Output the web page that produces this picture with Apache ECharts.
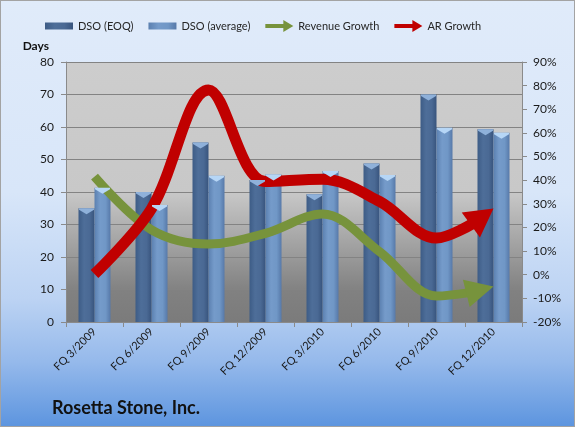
<!DOCTYPE html>
<html>
<head>
<meta charset="utf-8">
<script src="https://cdn.jsdelivr.net/npm/echarts@6/dist/echarts.min.js"></script>
<style>
  html, body { margin: 0; padding: 0; }
  #chart { width: 573px; height: 425px; border: 1px solid #a3a3a3; }
</style>
</head>
<body>
<div id="chart"></div>
<script>
// quarters on the x axis
var categories = ['FQ 3/2009', 'FQ 6/2009', 'FQ 9/2009', 'FQ 12/2009',
                  'FQ 3/2010', 'FQ 6/2010', 'FQ 9/2010', 'FQ 12/2010'];
// days sales outstanding (left axis)
var dsoEoq = [35, 40, 55.2, 43.7, 39.3, 48.8, 70, 59.3];
var dsoAvg = [41.3, 36, 45, 45.4, 46.5, 45.2, 59.8, 58.2];
// growth in % (right axis)
var revenueGrowth = [41.5, 19, 13, 17.5, 25.7, 9.8, -9, -5];
var arGrowth = [0.3, 28, 78.2, 39.4, 40.4, 31, 15.5, 28];

var FONT = 'Lato, "DejaVu Sans", sans-serif';
var arrowHead = 'path://M0,0L28,15L0,30Z';
var barIcon = 'path://M0,0M28,12M0,2.5h28v7h-28z';
var arrowIcon = 'path://M0,4h18v-4l10,6l-10,6v-4h-18z';
var barCap = 'path://M0,0H16V1.5L8,6L0,1.5Z';

function hGrad(stops) {
  return new echarts.graphic.LinearGradient(0, 0, 1, 0, stops);
}

// light bevel drawn on top of every bar
function caps(values, color) {
  return {
    symbol: barCap,
    symbolSize: [15, 6],
    symbolOffset: [0, 3],
    silent: true,
    label: { show: false },
    itemStyle: { color: color },
    data: values.map(function (v, i) { return { coord: [i, v] }; })
  };
}

// line points sit on the centre of each category (hidden value x axis 0..8)
function linePoints(values) {
  return values.map(function (v, i) { return [i + 0.5, v]; });
}

var chart = echarts.init(document.getElementById('chart'));

var option = {
  animation: false,
  backgroundColor: new echarts.graphic.LinearGradient(0, 0, 0, 1, [
    { offset: 0, color: '#e0ebfa' },
    { offset: 0.45, color: '#d8e6f9' },
    { offset: 0.7, color: '#bcd3f3' },
    { offset: 0.85, color: '#95b9eb' },
    { offset: 1, color: '#5d95df' }
  ]),
  textStyle: { fontFamily: FONT },
  title: {
    text: 'Rosetta Stone, Inc.',
    left: 51,
    top: 398,
    padding: 0,
    textStyle: { fontFamily: FONT, fontSize: 18, fontWeight: 'bold', color: '#111' }
  },
  legend: {
    left: 44,
    top: 19,
    padding: 0,
    itemWidth: 28,
    itemHeight: 12,
    itemGap: 15,
    itemStyle: { borderWidth: 0 },
    textStyle: { fontFamily: FONT, fontSize: 11, color: '#262626' },
    data: [
      { name: 'DSO (EOQ)', icon: barIcon },
      { name: 'DSO (average)', icon: barIcon },
      { name: 'Revenue Growth', icon: arrowIcon },
      { name: 'AR Growth', icon: arrowIcon }
    ]
  },
  grid: {
    left: 65, right: 52, top: 61, bottom: 104,
    show: true,
    borderWidth: 0,
    backgroundColor: new echarts.graphic.LinearGradient(0, 0, 0, 1, [
      { offset: 0, color: '#cdcdcd' },
      { offset: 0.5, color: '#c8c8c8' },
      { offset: 0.88, color: '#818181' },
      { offset: 1, color: '#7b7b7b' }
    ])
  },
  xAxis: [
    {
      type: 'category',
      data: categories,
      boundaryGap: true,
      axisLine: { lineStyle: { color: '#8a8a8a' } },
      axisTick: { show: true, length: 5, lineStyle: { color: '#8a8a8a' } },
      axisLabel: { rotate: 45, margin: 8, fontSize: 11, color: '#1a1a1a', interval: 0 }
    },
    { type: 'value', min: 0, max: 8, show: false }
  ],
  yAxis: [
    {
      type: 'value', min: 0, max: 80, interval: 10, position: 'left',
      name: 'Days', nameLocation: 'end', nameGap: 10,
      nameTextStyle: { fontFamily: FONT, fontWeight: 'bold', fontSize: 12, color: '#111', align: 'right', padding: [0, 17, 0, 0] },
      axisLine: { show: true, lineStyle: { color: '#8a8a8a' } },
      axisTick: { show: true, length: 5, lineStyle: { color: '#8a8a8a' } },
      axisLabel: { margin: 12, fontSize: 12, color: '#1a1a1a' },
      splitLine: { lineStyle: { color: '#838383' } }
    },
    {
      type: 'value', min: -20, max: 90, interval: 10, position: 'right',
      axisLine: { show: true, lineStyle: { color: '#8a8a8a' } },
      axisTick: { show: true, length: 5, lineStyle: { color: '#8a8a8a' } },
      axisLabel: { margin: 11, fontSize: 12, color: '#1a1a1a', formatter: '{value}%' },
      splitLine: { show: false }
    }
  ],
  series: [
    {
      name: 'DSO (EOQ)', type: 'bar', data: dsoEoq,
      barWidth: 16, barGap: '0%',
      itemStyle: {
        color: hGrad([
          { offset: 0, color: '#3d5c86' },
          { offset: 0.35, color: '#4e6e99' },
          { offset: 0.7, color: '#4a6994' },
          { offset: 1, color: '#38547d' }
        ])
      },
      markPoint: caps(dsoEoq, '#8fb1da')
    },
    {
      name: 'DSO (average)', type: 'bar', data: dsoAvg,
      barWidth: 16,
      itemStyle: {
        color: hGrad([
          { offset: 0, color: '#5b80b0' },
          { offset: 0.35, color: '#759bca' },
          { offset: 0.7, color: '#7097c6' },
          { offset: 1, color: '#5779a9' }
        ])
      },
      markPoint: caps(dsoAvg, '#b6d6f6')
    },
    {
      name: 'Revenue Growth', type: 'line', xAxisIndex: 1, yAxisIndex: 1,
      data: linePoints(revenueGrowth), smooth: 0.35, symbol: 'none', z: 3,
      color: '#77933c',
      lineStyle: { width: 9, color: '#77933c', cap: 'butt' }
    },
    {
      name: 'AR Growth', type: 'line', xAxisIndex: 1, yAxisIndex: 1,
      data: linePoints(arGrowth), smooth: 0.35, symbol: 'none', z: 4,
      color: '#c00000',
      lineStyle: { width: 11, color: '#c00000', cap: 'butt' }
    }
  ]
};

chart.setOption(option);

// finish each growth line with an arrow head whose tip is the last value
function withArrow(values, angle, len, width) {
  var pts = linePoints(values);
  var rad = angle * Math.PI / 180;
  var tip = chart.convertToPixel({ xAxisIndex: 1, yAxisIndex: 1 }, pts[pts.length - 1]);
  var back = len - 3;
  var base = chart.convertFromPixel({ xAxisIndex: 1, yAxisIndex: 1 },
    [tip[0] - back * Math.cos(rad), tip[1] + back * Math.sin(rad)]);
  pts[pts.length - 1] = {
    value: base,
    symbol: arrowHead,
    symbolSize: [len, width],
    symbolRotate: angle,
    symbolKeepAspect: false,
    symbolOffset: [(back - len / 2) * Math.cos(rad), -(back - len / 2) * Math.sin(rad)]
  };
  return pts;
}

chart.setOption({
  series: [
    {}, {},
    { data: withArrow(revenueGrowth, 14, 28, 28), showSymbol: true },
    { data: withArrow(arGrowth, 36, 28, 31), showSymbol: true }
  ]
});
</script>
</body>
</html>
